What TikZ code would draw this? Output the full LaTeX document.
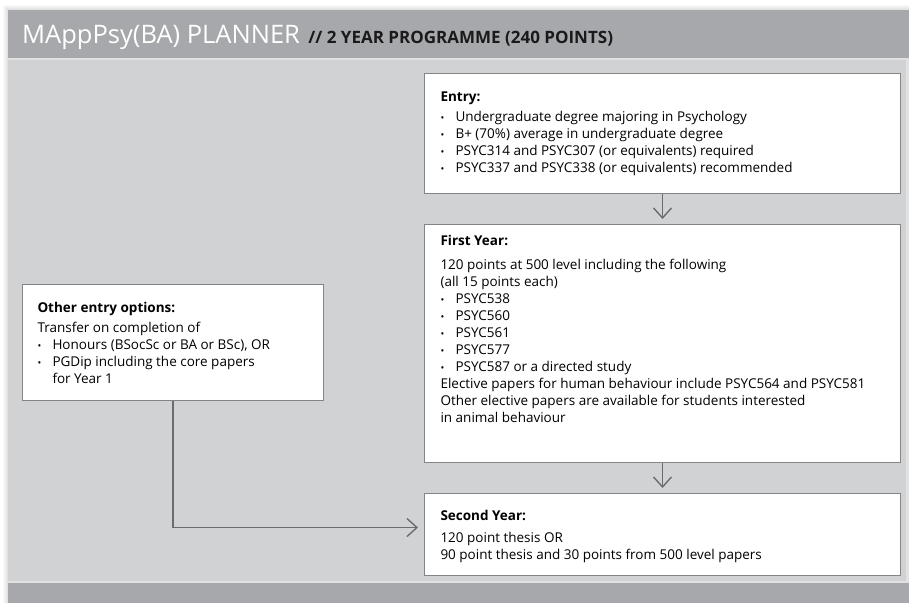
\documentclass[tikz,border=0pt]{standalone}
\usepackage{fontspec}
\setmainfont{Open Sans}
\usetikzlibrary{positioning,arrows.meta}
\definecolor{HeadGrey}{RGB}{167,168,171}
\definecolor{BodyGrey}{RGB}{209,210,212}
\definecolor{EdgeGrey}{RGB}{132,133,135}
\definecolor{LinkGrey}{RGB}{108,108,110}
\definecolor{TitleInk}{RGB}{26,26,26}
\tikzset{
  link/.style={-{Straight Barb[length=10pt,width=18pt]},line width=1.4pt,draw=LinkGrey,shorten >=5pt},
  infobox/.style={draw=EdgeGrey,line width=1pt,fill=white,inner xsep=16pt,inner ysep=0pt,
    font=\fontsize{13.5}{17}\selectfont},
  headtext/.style={inner sep=0pt,anchor=base west}
}
% one bullet line, hanging indent of 15pt
\newcommand{\itm}{\makebox[15pt][l]{\fontsize{10}{10}\selectfont\textbullet}}
\newcommand{\boxbody}[3]{\parbox[c][#1][t]{#2}{\raggedright #3}}
\newcommand{\firstline}[1]{\rule{0pt}{#1}}

\begin{document}
\begin{tikzpicture}[x=1pt,y=-1pt]
  \useasboundingbox (0,0) rectangle (909,603);
  \fill[white] (0,0) rectangle (909,603);
  % soft shadow round the sheet
  \foreach \s in {1,...,5}
    \fill[black,opacity=0.025] (8-\s,10-\s) rectangle (909,603);
  \fill[HeadGrey] (8,10) rectangle (909,58);
  \fill[BodyGrey] (8,60) rectangle (906,581);
  \fill[HeadGrey] (8,583) rectangle (909,603);

  \node[headtext,text=white,font=\fontsize{25.5}{25.5}\selectfont] (title) at (22,43) {MAppPsy(BA) PLANNER};
  \node[headtext,text=TitleInk,font=\fontsize{17}{17}\selectfont\bfseries,right=8pt of title.base east,anchor=base west] (subtitle)
    {// 2 YEAR PROGRAMME (240 POINTS)};

  \node[infobox,anchor=north west] (entry) at (424,73) {\boxbody{120pt}{444pt}{%
    \firstline{28pt}\textbf{Entry:}\\[3pt]
    \itm Undergraduate degree majoring in Psychology\\
    \itm B+ (70\%) average in undergraduate degree\\
    \itm PSYC314 and PSYC307 (or equivalents) required\\
    \itm PSYC337 and PSYC338 (or equivalents) recommended}};
  \node[infobox,below=30pt of entry] (first) {\boxbody{238pt}{444pt}{%
    \firstline{21pt}\textbf{First Year:}\\[7pt]
    120 points at 500 level including the following\\
    (all 15 points each)\\
    \itm PSYC538\\
    \itm PSYC560\\
    \itm PSYC561\\
    \itm PSYC577\\
    \itm PSYC587 or a directed study\\
    Elective papers for human behaviour include PSYC564 and PSYC581\\
    Other elective papers are available for students interested\\
    in animal behaviour}};
  \node[infobox,below=30pt of first] (second) {\boxbody{82pt}{444pt}{%
    \firstline{27pt}\textbf{Second Year:}\\[5pt]
    120 point thesis OR\\
    90 point thesis and 30 points from 500 level papers}};
  \node[infobox,inner xsep=15pt,anchor=north west] (other) at (22,284) {\boxbody{116pt}{271pt}{%
    \firstline{28pt}\textbf{Other entry options:}\\[3pt]
    Transfer on completion of\\
    \itm Honours (BSocSc or BA or BSc), OR\\
    \itm PGDip including the core papers\\
    \hspace*{15pt}for Year 1}};

  \draw[link] (entry) -- (first);
  \draw[link] (first) -- (second);
  \draw[link,shorten >=6pt] (other.south) |- ([yshift=7pt]second.west);
\end{tikzpicture}
\end{document}
